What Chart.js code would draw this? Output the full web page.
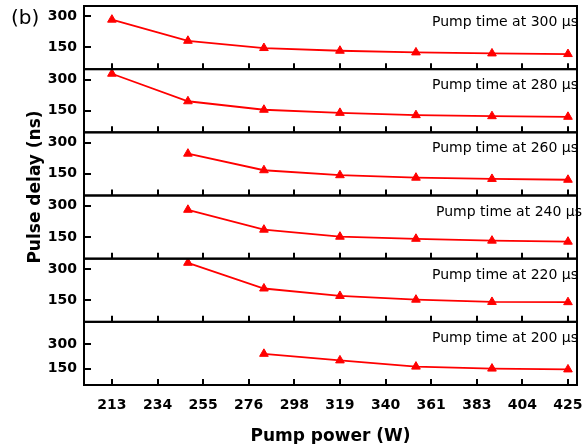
<!DOCTYPE html>
<html lang="en">
<head>
    <meta charset="UTF-8">
    <title>Pulse delay vs pump power</title>
    <script src="https://cdn.jsdelivr.net/npm/chart.js"></script>
    <style>
        body { margin: 0; background: #fff; }
        .chart-container { width: 584px; height: 444px; }
    </style>
</head>
<body>
    <div class="chart-container">
        <canvas id="delayChart" width="584" height="444"></canvas>
    </div>

    <script>
        // Pump power (W) where delays were measured
        const pumpPower = [212.6, 248, 283.4, 318.8, 354.2, 389.6, 425];

        // Pulse delay (ns), one panel per pump time (top to bottom)
        const pumpTimes = ['300', '280', '260', '240', '220', '200'];
        const delay300 = [284, 182, 147, 134, 126, 121, 118];
        const delay280 = [328, 195, 154, 139, 128, 123, 120];
        const delay260 = [null, 247, 167, 143, 131, 125, 121];
        const delay240 = [null, 281, 185, 151, 141, 132, 127];
        const delay220 = [null, 330, 206, 170, 152, 141, 140];
        const delay200 = [null, null, 240, 200, 162, 150, 145];

        // axis ticks
        const xTickValues = [212.6, 233.84, 255.08, 276.32, 297.56, 318.8, 340.04, 361.28, 382.52, 403.76, 425];
        const xTickLabels = ['213', '234', '255', '276', '298', '319', '340', '361', '383', '404', '425'];
        const yTicks = [150, 300];

        const delays = [delay300, delay280, delay260, delay240, delay220, delay200];
        const panelIds = ['y1', 'y2', 'y3', 'y4', 'y5', 'y6'];
        const FONT = '"DejaVu Sans", sans-serif';

        function yAxis(min, max) {
            return {
                type: 'linear',
                position: 'left',
                stack: 'panels',
                stackWeight: 1,
                min: min,
                max: max,
                afterBuildTicks: s => { s.ticks = yTicks.map(v => ({ value: v })); },
                afterFit: s => { s.width = 44; s.paddingTop = 0; s.paddingBottom = 0; },
                ticks: { color: '#000', padding: 7, font: { family: FONT, weight: 'bold', size: 14 } },
                grid: { display: false, drawTicks: false },
                border: { display: true, color: '#000', width: 2 }
            };
        }

        // frames, inward ticks and text that the stacked axes don't draw themselves
        const panelFrame = {
            id: 'panelFrame',
            afterDraw(chart) {
                const { ctx, chartArea: a, scales } = chart;
                const xs = scales.x;
                ctx.save();
                ctx.strokeStyle = '#000';
                ctx.fillStyle = '#000';
                ctx.lineWidth = 2;
                panelIds.forEach((id, i) => {
                    const s = scales[id];
                    ctx.strokeRect(a.left, s.top, a.right - a.left, s.bottom - s.top);
                    ctx.beginPath();
                    xTickValues.forEach(v => {
                        const x = Math.round(xs.getPixelForValue(v));
                        ctx.moveTo(x, s.bottom);
                        ctx.lineTo(x, s.bottom - 6);
                    });
                    yTicks.forEach(v => {
                        const y = Math.round(s.getPixelForValue(v));
                        ctx.moveTo(a.left, y);
                        ctx.lineTo(a.left + 7, y);
                    });
                    ctx.stroke();

                    ctx.font = '14px ' + FONT;
                    ctx.textAlign = 'right';
                    ctx.textBaseline = 'middle';
                    ctx.fillText('Pump time at ' + pumpTimes[i] + ' µs', a.right + (i === 3 ? 5 : 1), s.top + 16.5);
                });

                ctx.save();
                ctx.translate(36, 187);
                ctx.rotate(-Math.PI / 2);
                ctx.font = 'bold 17px ' + FONT;
                ctx.textAlign = 'center';
                ctx.textBaseline = 'middle';
                ctx.fillText('Pulse delay (ns)', 0, 0);
                ctx.restore();

                ctx.font = '20px ' + FONT;
                ctx.textAlign = 'left';
                ctx.textBaseline = 'middle';
                ctx.fillText('(b)', 11, 19);
                ctx.restore();
            }
        };

        const scales = {
            x: {
                type: 'linear',
                position: 'bottom',
                min: 199.6,
                max: 429.2,
                afterBuildTicks: s => { s.ticks = xTickValues.map(v => ({ value: v })); },
                afterFit: s => { s.height = 59; s.paddingLeft = 0; s.paddingRight = 0; },
                ticks: {
                    autoSkip: false,
                    maxRotation: 0,
                    color: '#000',
                    padding: 12,
                    font: { family: FONT, weight: 'bold', size: 14 },
                    callback: (v, i) => xTickLabels[i]
                },
                grid: { display: false, drawTicks: false },
                border: { display: true, color: '#000', width: 2 },
                title: {
                    display: true,
                    text: 'Pump power (W)',
                    color: '#000',
                    padding: { top: 0, bottom: -1 },
                    font: { family: FONT, weight: 'bold', size: 17, lineHeight: 1 }
                }
            }
        };
        // stacked left axes are placed bottom-up, so add the lowest panel first
        for (let i = panelIds.length - 1; i >= 0; i--) {
            scales[panelIds[i]] = i < 5 ? yAxis(45, 350) : yAxis(50, 435);
        }

        const datasets = delays.map((d, i) => ({
            label: pumpTimes[i] + ' µs',
            yAxisID: panelIds[i],
            data: pumpPower.map((p, j) => ({ x: p, y: d[j] })),
            borderColor: '#ff0000',
            backgroundColor: '#ff0000',
            borderWidth: 1.8,
            tension: 0,
            pointStyle: 'triangle',
            pointRadius: 5,
            pointBorderWidth: 1,
            pointBackgroundColor: '#ff0000',
            pointBorderColor: '#ff0000'
        }));

        new Chart(document.getElementById('delayChart'), {
            type: 'line',
            data: { datasets: datasets },
            options: {
                responsive: false,
                animation: false,
                layout: { padding: { left: 40, right: 7, top: 6, bottom: 0 } },
                plugins: { legend: { display: false }, tooltip: { enabled: false } },
                scales: scales
            },
            plugins: [panelFrame]
        });
    </script>
</body>
</html>
